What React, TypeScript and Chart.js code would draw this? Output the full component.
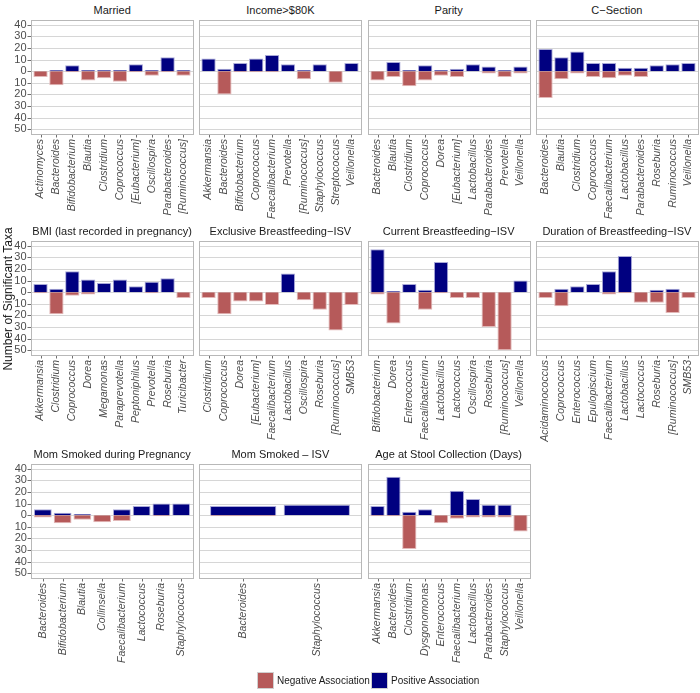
import React, { useEffect, useRef } from "react";
import { Chart, registerables } from "chart.js";

Chart.register(...registerables);

// ---------------- data ----------------
const yTickValues = [-50, -40, -30, -20, -10, 0, 10, 20, 30, 40];

const marriedTaxa = ["Actinomyces", "Bacteroides", "Bifidobacterium", "Blautia", "Clostridium", "Coprococcus", "[Eubacterium]", "Oscillospira", "Parabacteroides", "[Ruminococcus]"];
const marriedPos = [0, 1, 5, 1, 1, 1, 6, 1, 12, 1];
const marriedNeg = [5, 12, 1, 8, 6, 9, 1, 4, 1, 4];

const incomeTaxa = ["Akkermansia", "Bacteroides", "Bifidobacterium", "Coprococcus", "Faecalibacterium", "Prevotella", "[Ruminococcus]", "Staphylococcus", "Streptococcus", "Veillonella"];
const incomePos = [11, 2, 7, 11, 14, 6, 1, 6, 0, 7];
const incomeNeg = [0, 20, 1, 1, 1, 0, 7, 0, 10, 0];

const parityTaxa = ["Bacteroides", "Blautia", "Clostridium", "Coprococcus", "Dorea", "[Eubacterium]", "Lactobacillus", "Parabacteroides", "Prevotella", "Veillonella"];
const parityPos = [0, 8, 1, 5, 1, 2, 6, 4, 1, 4];
const parityNeg = [8, 5, 13, 8, 4, 5, 0, 2, 5, 2];

const csectionTaxa = ["Bacteroides", "Blautia", "Clostridium", "Coprococcus", "Faecalibacterium", "Lactobacillus", "Parabacteroides", "Roseburia", "Ruminococcus", "Veillonella"];
const csectionPos = [19, 12, 17, 7, 7, 3, 3, 5, 6, 7];
const csectionNeg = [23, 7, 2, 5, 6, 4, 5, 0, 0, 0];

const bmiTaxa = ["Akkermansia", "Clostridium", "Coprococcus", "Dorea", "Megamonas", "Paraprevotella", "Peptoniphilus", "Prevotella", "Roseburia", "Turicibacter"];
const bmiPos = [7, 3, 18, 11, 8, 11, 5, 9, 12, 0];
const bmiNeg = [1, 19, 3, 2, 0, 0, 0, 1, 0, 5];

const exclusiveTaxa = ["Clostridium", "Coprococcus", "Dorea", "[Eubacterium]", "Faecalibacterium", "Lactobacillus", "Oscillospira", "Roseburia", "[Ruminococcus]", "SMB53"];
const exclusivePos = [0, 0, 0, 0, 0, 16, 0, 0, 0, 0];
const exclusiveNeg = [5, 19, 8, 8, 11, 0, 7, 15, 33, 11];

const currentTaxa = ["Bifidobacterium", "Dorea", "Enterococcus", "Faecalibacterium", "Lactobacillus", "Lactococcus", "Oscillospira", "Roseburia", "[Ruminococcus]", "Veillonella"];
const currentPos = [37, 1, 7, 2, 26, 0, 0, 0, 0, 10];
const currentNeg = [2, 27, 0, 15, 1, 5, 5, 30, 50, 0];

const durationTaxa = ["Acidaminococcus", "Coprococcus", "Enterococcus", "Epulopiscium", "Faecalibacterium", "Lactobacillus", "Lactococcus", "Roseburia", "[Ruminococcus]", "SMB53"];
const durationPos = [0, 3, 5, 7, 18, 31, 0, 2, 3, 0];
const durationNeg = [5, 12, 0, 0, 2, 1, 9, 9, 18, 5];

const smokedPregTaxa = ["Bacteroides", "Bifidobacterium", "Blautia", "Collinsella", "Faecalibacterium", "Lactococcus", "Roseburia", "Staphylococcus"];
const smokedPregPos = [5, 2, 1, 0, 5, 8, 10, 10];
const smokedPregNeg = [2, 7, 4, 6, 5, 0, 1, 0];

const smokedIsvTaxa = ["Bacteroides", "Staphylococcus"];
const smokedIsvPos = [8, 9];
const smokedIsvNeg = [1, 0];

const ageTaxa = ["Akkermansia", "Bacteroides", "Clostridium", "Dysgonomonas", "Enterococcus", "Faecalibacterium", "Lactobacillus", "Parabacteroides", "Staphylococcus", "Veillonella"];
const agePos = [8, 33, 3, 5, 0, 21, 14, 9, 9, 0];
const ageNeg = [1, 1, 29, 0, 7, 3, 2, 2, 2, 14];

const panelTitles = [
  "Married", "Income>$80K", "Parity", "C\u2212Section",
  "BMI (last recorded in pregnancy)", "Exclusive Breastfeeding\u2212ISV", "Current Breastfeeding\u2212ISV", "Duration of Breastfeeding\u2212ISV",
  "Mom Smoked during Pregnancy", "Mom Smoked \u2013 ISV", "Age at Stool Collection (Days)",
];
const panelTaxa = [marriedTaxa, incomeTaxa, parityTaxa, csectionTaxa, bmiTaxa, exclusiveTaxa, currentTaxa, durationTaxa, smokedPregTaxa, smokedIsvTaxa, ageTaxa];
const panelPos = [marriedPos, incomePos, parityPos, csectionPos, bmiPos, exclusivePos, currentPos, durationPos, smokedPregPos, smokedIsvPos, agePos];
const panelNeg = [marriedNeg, incomeNeg, parityNeg, csectionNeg, bmiNeg, exclusiveNeg, currentNeg, durationNeg, smokedPregNeg, smokedIsvNeg, ageNeg];

const legendLabels = ["Negative Association", "Positive Association"];

// ---------------- style / layout ----------------
const FONT = "'Liberation Sans', Arial, Helvetica, sans-serif";
const NEG_COLOR = "#b65a5a";
const POS_COLOR = "#000080";
const NEG_EDGE = "#e2b8b8";
const POS_EDGE = "#a9a9d8";
const GRID_COLOR = "#d6d6d6";
const BOX_COLOR = "#b8b8b8";
const TICK_COLOR = "#6e6e6e";
const TEXT_COLOR = "#4d4d4d";

const COL_LEFTS = [31, 199.25, 367.5, 535.75];
const ROW_TOPS = [20, 241, 464];
const BOX_W = 162.25;
const BOX_H = 114;
const Y_MIN = -54;
const Y_MAX = 44;
const X_LABEL_H = 100;

type PanelProps = { index: number };

function Panel({ index }: PanelProps) {
  const ref = useRef<HTMLCanvasElement | null>(null);
  const col = index % 4;
  const row = Math.floor(index / 4);
  const taxa = panelTaxa[index];
  const n = taxa.length;
  const boxLeft = COL_LEFTS[col];
  const boxTop = ROW_TOPS[row];
  const u = BOX_W / (n + 0.2);
  const chartLeft = boxLeft + 0.1 * u;
  const chartW = n * u;
  const yw = col === 0 ? chartLeft : 0.1 * u + 3;
  const canvasLeft = chartLeft - yw;
  const padRight = 0.1 * u + 3;
  const canvasW = yw + chartW + padRight;
  const canvasTop = boxTop - 2;
  const canvasH = 2 + BOX_H + X_LABEL_H;

  useEffect(() => {
    if (!ref.current) return;
    const pos = panelPos[index].map((v) => (v === 0 ? null : v));
    const neg = panelNeg[index].map((v) => (v === 0 ? null : -v));
    const showY = col === 0;
    const frame = {
      id: "frame",
      beforeDatasetsDraw(chart: any) {
        const { ctx, chartArea } = chart;
        const ys = chart.scales.y;
        const xs = chart.scales.x;
        const bl = chartArea.left - 0.1 * u;
        const br = chartArea.right + 0.1 * u;
        const bt = chartArea.top;
        const bb = chartArea.bottom;
        ctx.save();
        ctx.strokeStyle = GRID_COLOR;
        ctx.lineWidth = 1.2;
        yTickValues.forEach((v) => {
          const y = Math.round(ys.getPixelForValue(v)) + 0.5;
          ctx.beginPath();
          ctx.moveTo(bl, y);
          ctx.lineTo(br, y);
          ctx.stroke();
        });
        ctx.strokeStyle = TICK_COLOR;
        ctx.lineWidth = 1;
        if (showY) {
          yTickValues.forEach((v) => {
            const y = Math.round(ys.getPixelForValue(v)) + 0.5;
            ctx.beginPath();
            ctx.moveTo(bl - 3.5, y);
            ctx.lineTo(bl, y);
            ctx.stroke();
          });
        }
        for (let i = 0; i < n; i++) {
          const x = Math.round(xs.getPixelForValue(i)) + 0.5;
          ctx.beginPath();
          ctx.moveTo(x, bb);
          ctx.lineTo(x, bb + 3.5);
          ctx.stroke();
        }
        ctx.strokeStyle = BOX_COLOR;
        ctx.lineWidth = 1;
        ctx.strokeRect(Math.round(bl) + 0.5, Math.round(bt) + 0.5, Math.round(br - bl), Math.round(bb - bt));
        ctx.restore();
      },
    };
    const chart = new Chart(ref.current, {
      type: "bar",
      data: {
        labels: taxa,
        datasets: [
          {
            label: legendLabels[0],
            data: neg as any,
            backgroundColor: NEG_COLOR,
            borderColor: NEG_EDGE,
            borderWidth: 1,
            borderSkipped: "start",
            stack: "s",
            categoryPercentage: 0.9,
            barPercentage: 1,
          },
          {
            label: legendLabels[1],
            data: pos as any,
            backgroundColor: POS_COLOR,
            borderColor: POS_EDGE,
            borderWidth: 1,
            borderSkipped: "start",
            stack: "s",
            categoryPercentage: 0.9,
            barPercentage: 1,
          },
        ],
      },
      options: {
        animation: false,
        responsive: false,
        maintainAspectRatio: false,
        devicePixelRatio: 1,
        layout: { padding: { top: 2, right: padRight, bottom: 0, left: 0 } },
        plugins: { legend: { display: false }, title: { display: false }, tooltip: { enabled: false } },
        scales: {
          x: {
            type: "category",
            stacked: true,
            offset: true,
            grid: { display: false, drawTicks: false },
            border: { display: false },
            ticks: {
              autoSkip: false,
              maxRotation: 90,
              minRotation: 90,
              padding: 5,
              color: TEXT_COLOR,
              font: { family: FONT, size: 10.5, style: "italic" },
            },
            afterFit(s: any) {
              s.height = X_LABEL_H;
              s.paddingLeft = 0;
              s.paddingRight = 0;
            },
          },
          y: {
            type: "linear",
            stacked: true,
            min: Y_MIN,
            max: Y_MAX,
            grid: { display: false, drawTicks: false },
            border: { display: false },
            afterBuildTicks(s: any) {
              s.ticks = yTickValues.map((v) => ({ value: v }));
            },
            ticks: {
              display: showY,
              autoSkip: false,
              padding: 6,
              color: TEXT_COLOR,
              font: { family: FONT, size: 11 },
              callback: (v: any) => String(Math.abs(Number(v))),
            },
            afterFit(s: any) {
              s.width = yw;
              s.paddingTop = 0;
              s.paddingBottom = 0;
            },
          },
        },
      },
      plugins: [frame],
    } as any);
    return () => chart.destroy();
  }, [index]);

  return (
    <>
      <div
        style={{
          position: "absolute",
          left: boxLeft,
          top: boxTop - 18,
          width: BOX_W,
          height: 16,
          lineHeight: "16px",
          textAlign: "center",
          fontFamily: FONT,
          fontSize: 11,
          color: "#1a1a1a",
          whiteSpace: "nowrap",
        }}
      >
        {panelTitles[index]}
      </div>
      <canvas
        ref={ref}
        width={Math.round(canvasW)}
        height={canvasH}
        style={{ position: "absolute", left: Math.round(canvasLeft), top: canvasTop, width: Math.round(canvasW), height: canvasH }}
      />
    </>
  );
}

export default function App() {
  return (
    <div style={{ position: "absolute", left: 0, top: 0, width: 700, height: 693, background: "#fff", overflow: "hidden" }}>
      {panelTitles.map((_, i) => (
        <Panel key={i} index={i} />
      ))}
      <div
        style={{
          position: "absolute",
          left: 8 - 100,
          top: 299 - 8,
          width: 200,
          height: 16,
          lineHeight: "16px",
          textAlign: "center",
          transform: "rotate(-90deg)",
          fontFamily: FONT,
          fontSize: 12,
          color: "#1a1a1a",
          whiteSpace: "nowrap",
        }}
      >
        Number of Significant Taxa
      </div>
      <div style={{ position: "absolute", left: 257, top: 672, width: 15, height: 15, background: NEG_COLOR, border: "1px solid #d0d0d0" }} />
      <div style={{ position: "absolute", left: 277, top: 672, height: 17, lineHeight: "17px", fontFamily: FONT, fontSize: 10, color: "#1a1a1a", whiteSpace: "nowrap" }}>
        {legendLabels[0]}
      </div>
      <div style={{ position: "absolute", left: 371, top: 672, width: 15, height: 15, background: POS_COLOR, border: "1px solid #d0d0d0" }} />
      <div style={{ position: "absolute", left: 391, top: 672, height: 17, lineHeight: "17px", fontFamily: FONT, fontSize: 10, color: "#1a1a1a", whiteSpace: "nowrap" }}>
        {legendLabels[1]}
      </div>
    </div>
  );
}
